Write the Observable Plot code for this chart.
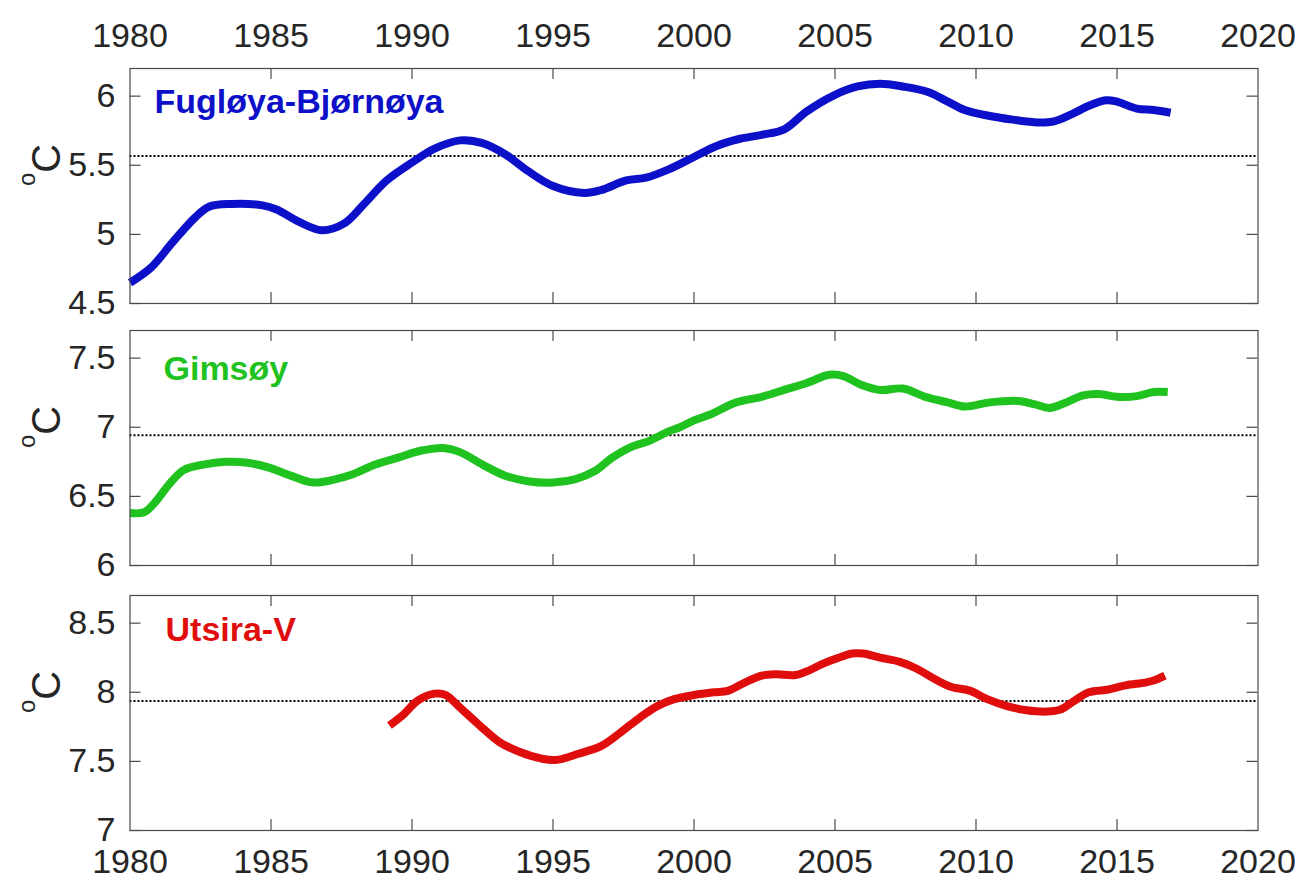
<!DOCTYPE html>
<html>
<head>
<meta charset="utf-8">
<script src="https://cdn.jsdelivr.net/npm/d3@7"></script>
<script src="https://cdn.jsdelivr.net/npm/@observablehq/plot@0.6"></script>
<style>
  html, body { margin: 0; padding: 0; background: #fff; }
  #chart { position: relative; width: 1300px; height: 879px; overflow: hidden; background: #fff; }
  #chart svg { position: absolute; left: 0; overflow: visible; background: transparent; }
</style>
</head>
<body>
<div id="chart"></div>
<script>
// ---- Data -------------------------------------------------------------
const yearTicks = [1980, 1985, 1990, 1995, 2000, 2005, 2010, 2015, 2020];

const stationNames = ["Fugløya-Bjørnøya", "Gimsøy", "Utsira-V"];
const unitLabel = "oC";

// Fugløya-Bjørnøya section, smoothed temperature (°C)
const fuglYear = [1980.0, 1980.75, 1981.5, 1982.3, 1982.8, 1983.6, 1984.7, 1985.2, 1986.0, 1986.8,
  1987.6, 1988.3, 1989.1, 1990.0, 1990.8, 1991.7, 1992.5, 1993.3, 1994.1, 1995.0,
  1996.1, 1996.7, 1997.6, 1998.3, 1999.1, 2000.0, 2000.8, 2001.6, 2002.4, 2003.2,
  2004.0, 2005.0, 2005.8, 2006.6, 2007.4, 2008.3, 2009.0, 2009.6, 2010.4, 2011.3,
  2012.2, 2012.8, 2013.4, 2014.0, 2014.6, 2015.0, 2015.7, 2016.3, 2016.9];
const fuglTemp = [4.65, 4.76, 4.94, 5.12, 5.20, 5.22, 5.21, 5.18, 5.09, 5.03,
  5.08, 5.22, 5.39, 5.52, 5.62, 5.68, 5.66, 5.58, 5.46, 5.35,
  5.30, 5.32, 5.39, 5.41, 5.47, 5.56, 5.64, 5.69, 5.72, 5.76,
  5.89, 6.01, 6.07, 6.09, 6.07, 6.03, 5.96, 5.90, 5.86, 5.83,
  5.81, 5.82, 5.87, 5.93, 5.97, 5.96, 5.91, 5.90, 5.88];
const fuglMean = 5.567;
const fuglTicks = [4.5, 5, 5.5, 6];
const fuglDomain = [4.5, 6.2];

// Gimsøy section
const gimsYear = [1980.0, 1980.5, 1980.9, 1981.4, 1981.9, 1982.6, 1983.4, 1984.1, 1984.9, 1985.7,
  1986.5, 1987.3, 1987.9, 1988.7, 1989.5, 1990.3, 1991.1, 1991.7, 1992.5, 1993.3,
  1994.1, 1995.0, 1995.8, 1996.5, 1997.1, 1997.8, 1998.4, 1999.1, 1999.5, 2000.0,
  2000.55, 2001.5, 2002.4, 2003.2, 2004.0, 2004.8, 2005.3, 2005.9, 2006.6, 2007.4,
  2008.2, 2009.0, 2009.6, 2010.5, 2011.5, 2012.1, 2012.6, 2013.2, 2013.8, 2014.35,
  2015.0, 2015.7, 2016.3, 2016.8];
const gimsTemp = [6.38, 6.385, 6.46, 6.59, 6.69, 6.73, 6.75, 6.745, 6.71, 6.65,
  6.60, 6.625, 6.66, 6.73, 6.78, 6.83, 6.85, 6.82, 6.73, 6.65,
  6.61, 6.60, 6.625, 6.685, 6.78, 6.86, 6.90, 6.97, 7.00, 7.05,
  7.09, 7.18, 7.22, 7.27, 7.32, 7.38, 7.37, 7.31, 7.27, 7.28,
  7.22, 7.18, 7.15, 7.18, 7.19, 7.165, 7.14, 7.18, 7.23, 7.24,
  7.22, 7.225, 7.255, 7.255];
const gimsMean = 6.942;
const gimsTicks = [6, 6.5, 7, 7.5];
const gimsDomain = [6, 7.7];

// Utsira-V section
const utsiYear = [1989.2, 1989.7, 1990.2, 1990.8, 1991.2, 1991.7, 1992.4, 1993.1, 1993.8, 1994.6,
  1995.1, 1995.9, 1996.7, 1997.4, 1998.1, 1998.7, 1999.3, 2000.0, 2000.7, 2001.2,
  2001.8, 2002.4, 2002.9, 2003.6, 2004.1, 2004.5, 2005.0, 2005.6, 2006.0, 2006.6,
  2007.3, 2007.9, 2008.5, 2009.1, 2009.8, 2010.4, 2011.1, 2011.8, 2012.5, 2013.0,
  2013.5, 2014.0, 2014.7, 2015.3, 2016.0, 2016.3, 2016.7];
const utsiTemp = [7.76, 7.84, 7.94, 7.99, 7.98, 7.89, 7.76, 7.64, 7.57, 7.52,
  7.51, 7.555, 7.61, 7.71, 7.82, 7.90, 7.95, 7.98, 8.00, 8.01,
  8.07, 8.12, 8.13, 8.125, 8.16, 8.20, 8.24, 8.28, 8.28, 8.25,
  8.22, 8.17, 8.10, 8.04, 8.01, 7.95, 7.90, 7.87, 7.86, 7.875,
  7.94, 8.00, 8.02, 8.05, 8.07, 8.085, 8.12];
const utsiMean = 7.936;
const utsiTicks = [7, 7.5, 8, 8.5];
const utsiDomain = [7, 8.7];

// ---- Styles & layout -----------------------------------------------------
const seriesColors = ["#0c10c8", "#1fc21f", "#e00d0d"];
const fontFamily = "'Liberation Sans', Arial, Helvetica, sans-serif";
const textColor = "#262626";
const frameColor = "#4a4a4a";
const W = 1300, marginLeft = 129.5, marginRight = 42.5, innerH = 235, tickLen = 11;
const innerW = W - marginLeft - marginRight;

const layout = [
  { top: 0,     marginTop: 68, marginBottom: 14,   axis: "top",    nameDx: 24.5, nameDy: 20 },
  { top: 320,   marginTop: 10, marginBottom: 14,   axis: null,     nameDx: 33.5, nameDy: 25 },
  { top: 584.5, marginTop: 10, marginBottom: 49.5, axis: "bottom", nameDx: 35.5, nameDy: 21 }
];

const series = [
  { year: fuglYear, temp: fuglTemp, mean: fuglMean, ticks: fuglTicks, domain: fuglDomain },
  { year: gimsYear, temp: gimsTemp, mean: gimsMean, ticks: gimsTicks, domain: gimsDomain },
  { year: utsiYear, temp: utsiTemp, mean: utsiMean, ticks: utsiTicks, domain: utsiDomain }
];

const fmt = d => String(d);
const innerYears = yearTicks.slice(1, -1);
const chart = document.getElementById("chart");

series.forEach((s, i) => {
  const L = layout[i];
  const rows = s.year.map((year, j) => ({ year, temp: s.temp[j] }));
  const marks = [
    Plot.ruleY([s.mean], { stroke: "#000", strokeWidth: 2, strokeDasharray: "2,2" }),
    Plot.line(rows, {
      x: "year", y: "temp", stroke: seriesColors[i], strokeWidth: 8,
      curve: "catmull-rom", strokeLinecap: "butt", strokeLinejoin: "round"
    }),
    // inward ticks on all four sides of the box
    Plot.tickX(innerYears, { x: d => d, insetBottom: innerH - tickLen, stroke: frameColor, strokeWidth: 1.2 }),
    Plot.tickX(innerYears, { x: d => d, insetTop: innerH - tickLen, stroke: frameColor, strokeWidth: 1.2 }),
    Plot.tickY(s.ticks, { y: d => d, insetRight: innerW - tickLen, stroke: frameColor, strokeWidth: 1.2 }),
    Plot.tickY(s.ticks, { y: d => d, insetLeft: innerW - tickLen, stroke: frameColor, strokeWidth: 1.2 }),
    Plot.frame({ stroke: frameColor, strokeWidth: 1.2 }),
    Plot.axisY(s.ticks, {
      anchor: "left", tickSize: 0, tickPadding: 14.5, tickFormat: fmt,
      fontSize: 34, fill: textColor, label: null
    }),
    Plot.text([stationNames[i]], {
      frameAnchor: "top-left", textAnchor: "start", lineAnchor: "top",
      dx: L.nameDx, dy: L.nameDy, fill: seriesColors[i], fontWeight: "bold", fontSize: 34
    }),
    Plot.text([unitLabel], {
      frameAnchor: "left", rotate: -90, dx: -93, fontSize: 40, fill: textColor
    })
  ];
  if (L.axis === "top") {
    marks.push(Plot.axisX(yearTicks, {
      anchor: "top", tickSize: 0, tickPadding: 21.5, tickFormat: fmt, fontSize: 34,
      fill: textColor, label: null
    }));
  } else if (L.axis === "bottom") {
    marks.push(Plot.axisX(yearTicks, {
      anchor: "bottom", tickSize: 0, tickPadding: 18, tickFormat: fmt, fontSize: 34,
      fill: textColor, label: null
    }));
  }
  const svg = Plot.plot({
    width: W,
    height: L.marginTop + innerH + L.marginBottom,
    marginTop: L.marginTop,
    marginBottom: L.marginBottom,
    marginLeft,
    marginRight,
    style: { fontFamily, background: "transparent", overflow: "visible" },
    x: { domain: [1980, 2020], axis: null },
    y: { domain: s.domain, axis: null },
    marks
  });
  svg.style.top = L.top + "px";
  // render the unit label as a raised "o" followed by "C"
  d3.select(svg).selectAll("text").filter(function () { return this.textContent === unitLabel; })
    .each(function () {
      const t = d3.select(this);
      t.text(null);
      t.append("tspan").attr("font-size", 24).attr("dy", "-0.62em").text("o");
      t.append("tspan").attr("dy", "0.62em").text("C");
    });
  chart.appendChild(svg);
});
</script>
</body>
</html>
